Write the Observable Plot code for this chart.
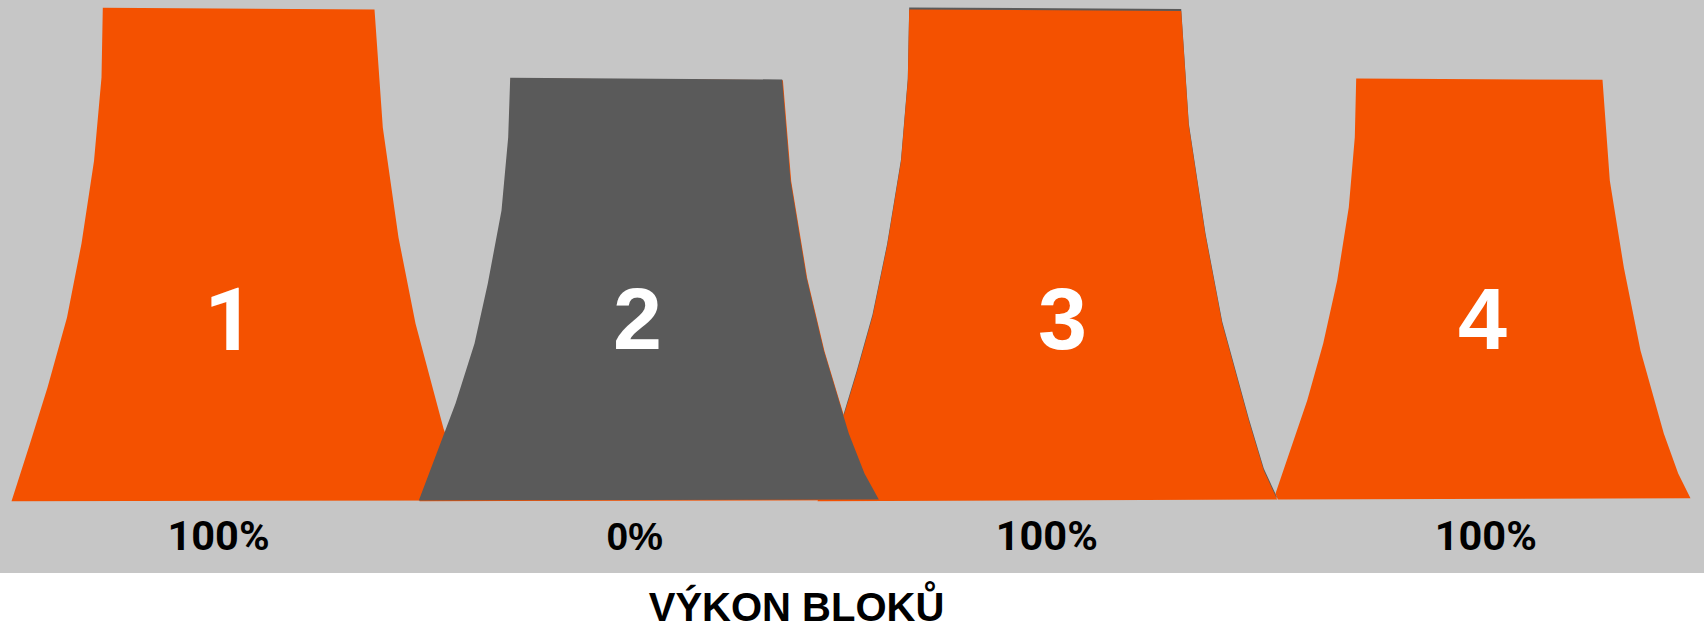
<!DOCTYPE html>
<html>
<head>
<meta charset="utf-8">
<script src="https://cdn.jsdelivr.net/npm/d3@7"></script>
<script src="https://cdn.jsdelivr.net/npm/@observablehq/plot@0.6"></script>
<style>
html,body{margin:0;padding:0;background:#fff;}
#title{position:absolute;left:0;top:589px;width:1593px;text-align:center;font:bold 40px/36px "Liberation Sans",Arial,sans-serif;color:#000;}
svg{display:block;}
</style>
</head>
<body>
<div id="chart"></div>
<div id="title"></div>
<script>
const titleText = "VÝKON BLOKŮ";
const blockNames = ["1", "2", "3", "4"];
const blockPower = [100, 0, 100, 100];
const blockCentersX = [229, 637, 1062, 1482];
const powerCentersX = [218, 634.3, 1046.3, 1485.3];
const colorOn = "#F45100";
const colorOff = "#5A5A5A";

const tower1X = [102.3,374,382.3,398,415,443,458,470,11,29.5,47,66.5,81,93.5,101];
const tower1H = [493.2,491.5,373.5,263.5,177.5,72.5,30.5,0.5,-0.2,57.5,113.5,183.5,257.5,340,423.5];
const tower2X = [509.7,781.7,790,806,823.3,848.3,864,878.3,418.3,455,474,487.3,501,507.7];
const tower2H = [423.2,421.5,320.5,223.5,150.5,67.5,27.5,1.5,0.5,97.5,157.5,217.5,290.5,363.8];
const tower3X = [908.7,1180.7,1188.3,1205,1221.7,1248.3,1263.3,1276.7,817,843.3,856,872,886.7,900.5,907.3];
const tower3H = [491.5,490,375.5,265.5,177.5,80.5,30.5,1.5,-0.2,85.5,127.5,184.5,255.5,339.5,420.5];
const tower4X = [1355.7,1602,1609.3,1623.3,1640,1663.3,1677.7,1690,1277.3,1275,1306.7,1322.7,1336.7,1348.3,1354.3];
const tower4H = [422.5,421.2,320.5,233.8,150.5,67.5,27.5,2.8,1.5,7.5,100.5,157.5,220.5,293.8,363.8];

const pts = (xs, hs) => xs.map((x, i) => ({x, h: hs[i]}));
const shape = (xs, hs, fill, extra = {}) =>
  Plot.line(pts(xs, hs), {x: "x", y: "h", fill, stroke: "none", curve: "linear", ...extra});

const blocks = blockNames.map((name, i) => ({name, power: blockPower[i] + "%", cx: blockCentersX[i], px: powerCentersX[i]}));
const hasOne = (s) => s.includes("1");
const bigNum = (filter, fontFamily, fontSize, base) => Plot.text(blocks.filter(d => filter(d.name)), {x: "cx", y: () => base, text: "name", fill: "#fff", fontFamily, fontSize, fontWeight: "bold", lineAnchor: "bottom", textAnchor: "middle"});
const pctNum = (filter, fontFamily, fontSize) => Plot.text(blocks.filter(d => filter(d.power)), {x: "px", y: () => -48.8, text: "power", fill: "#000", fontFamily, fontSize, fontWeight: "bold", lineAnchor: "bottom", textAnchor: "middle"});

const chart = Plot.plot({
  width: 1704,
  height: 573,
  margin: 0,
  style: {background: "#C6C6C6", fontFamily: '"Liberation Sans", Arial, sans-serif', overflow: "visible"},
  x: {domain: [0, 1704], range: [0, 1704], axis: null},
  y: {domain: [-72.5, 500.5], range: [573, 0], axis: null},
  marks: [
    shape(tower1X, tower1H, colorOn),
    shape(tower3X, tower3H, colorOff, {dy: -2}),
    shape(tower3X, tower3H, colorOn),
    shape(tower4X, tower4H, colorOn),
    shape(tower2X, tower2H, colorOn, {dx: 0.7, dy: 0.7}),
    shape(tower2X, tower2H, colorOff),
    bigNum(hasOne, "Roboto", 88, 151.5),
    bigNum((s) => !hasOne(s), '"Liberation Sans"', 88, 152.5),
    pctNum(hasOne, "Roboto", 41.5),
    pctNum((s) => !hasOne(s), '"Liberation Sans"', 39)
  ]
});
document.getElementById("chart").appendChild(chart);
document.getElementById("title").textContent = titleText;
</script>
</body>
</html>
